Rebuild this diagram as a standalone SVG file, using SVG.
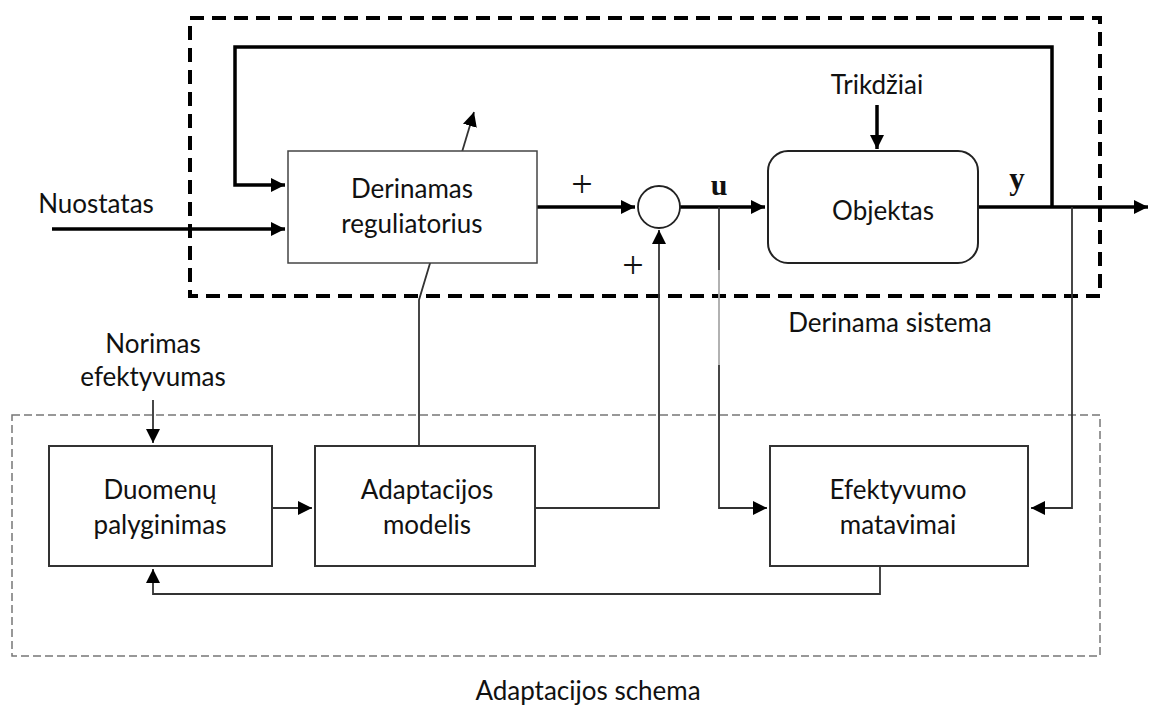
<svg xmlns="http://www.w3.org/2000/svg" width="1151" height="705" viewBox="0 0 1151 705">
  <style>
    .lbl { font-family: Lato, "Open Sans", "Liberation Sans", sans-serif; font-size: 26px; fill: #111; text-anchor: middle; }
    .sym { font-family: "Liberation Serif", "DejaVu Serif", serif; fill: #111; text-anchor: middle; }
    .box { fill: #fff; stroke: #333; stroke-width: 2; }
    .thick { fill: none; stroke: #000; stroke-width: 3.5; }
    .thin { fill: none; stroke: #333; stroke-width: 1.8; }
  </style>
  <defs>
    <marker id="ah" viewBox="0 0 10 10" refX="10" refY="5" markerWidth="4.5" markerHeight="4" orient="auto" markerUnits="strokeWidth">
      <path d="M0,0 L10,5 L0,10 Z" fill="#000"/>
    </marker>
    <marker id="ahs" viewBox="0 0 10 10" refX="10" refY="5" markerWidth="8" markerHeight="8" orient="auto" markerUnits="strokeWidth">
      <path d="M0,0 L10,5 L0,10 Z" fill="#000"/>
    </marker>
  </defs>
  <rect width="1151" height="705" fill="#fff"/>

  <!-- system boundaries -->
  <rect x="190" y="18" width="910" height="278" fill="none" stroke="#000" stroke-width="4" stroke-dasharray="14 8"/>
  <text class="lbl" x="890" y="332">Derinama sistema</text>
  <rect x="12" y="415" width="1088" height="241" fill="none" stroke="#777" stroke-width="1.5" stroke-dasharray="8 4"/>
  <text class="lbl" x="588" y="700">Adaptacijos schema</text>

  <!-- connectors -->
  <g id="connectors">
    <path class="thick" d="M52,229 H285" marker-end="url(#ah)"/>
    <path class="thick" d="M1052,207 V47 H235 V185 H285" marker-end="url(#ah)"/>
    <path class="thick" d="M537,207 H635" marker-end="url(#ah)"/>
    <path class="thick" d="M680,207 H765" marker-end="url(#ah)"/>
    <path class="thick" d="M877,105 V149" marker-end="url(#ah)"/>
    <path class="thick" d="M978,207 H1148" marker-end="url(#ah)"/>
    <path class="thin" d="M719,207 V270"/>
    <path d="M719,270 V365" fill="none" stroke="#aaa" stroke-width="1.8"/>
    <path class="thin" d="M719,365 V508 H767" stroke-width="2.5" marker-end="url(#ahs)"/>
    <path class="thin" d="M1072,207 V508 H1031" marker-end="url(#ahs)"/>
    <path class="thin" d="M153,400 V443" marker-end="url(#ahs)"/>
    <path class="thin" d="M272,508 H312" marker-end="url(#ahs)"/>
    <path class="thin" d="M535,508 H659 V230" stroke-width="2" marker-end="url(#ahs)"/>
    <path class="thin" d="M880,566 V594 H153 V569" marker-end="url(#ahs)"/>
    <path class="thin" d="M419,446 V300 L434,250"/>
    <path class="thin" d="M456,172 L474,112" marker-end="url(#ahs)"/>
  </g>

  <g id="regulatorius">
    <rect x="288" y="151" width="249" height="112" fill="#fff" stroke="#444" stroke-width="1.5"/>
    <text class="lbl" x="412" y="198">Derinamas</text>
    <text class="lbl" x="412" y="233">reguliatorius</text>
  </g>
  <g id="sumatorius">
    <circle cx="659" cy="207" r="21" fill="#fff" stroke="#222" stroke-width="1.8"/>
    <text class="sym" x="582" y="197" font-size="38">+</text>
    <text class="sym" x="633" y="278" font-size="38">+</text>
    <text class="sym" x="719" y="195" font-size="30" font-weight="bold">u</text>
  </g>
  <g id="objektas">
    <rect x="768" y="151" width="210" height="112" rx="20" fill="#fff" stroke="#222" stroke-width="2"/>
    <text class="lbl" x="883" y="220">Objektas</text>
    <text class="lbl" x="877" y="94">Trikdžiai</text>
    <text class="sym" x="1017" y="189" font-size="31" font-weight="bold">y</text>
  </g>
  <g id="nuostatas">
    <text class="lbl" x="96" y="213">Nuostatas</text>
  </g>
  <g id="norimas">
    <text class="lbl" x="153" y="353">Norimas</text>
    <text class="lbl" x="153" y="386">efektyvumas</text>
  </g>
  <g id="duomenu">
    <rect class="box" x="49" y="446" width="223" height="120"/>
    <text class="lbl" x="160" y="499">Duomenų</text>
    <text class="lbl" x="160" y="534">palyginimas</text>
  </g>
  <g id="adaptacijos">
    <rect class="box" x="315" y="446" width="220" height="120"/>
    <text class="lbl" x="427" y="499">Adaptacijos</text>
    <text class="lbl" x="427" y="534">modelis</text>
  </g>
  <g id="efektyvumo">
    <rect class="box" x="770" y="446" width="258" height="120"/>
    <text class="lbl" x="898" y="499">Efektyvumo</text>
    <text class="lbl" x="898" y="534">matavimai</text>
  </g>
</svg>
